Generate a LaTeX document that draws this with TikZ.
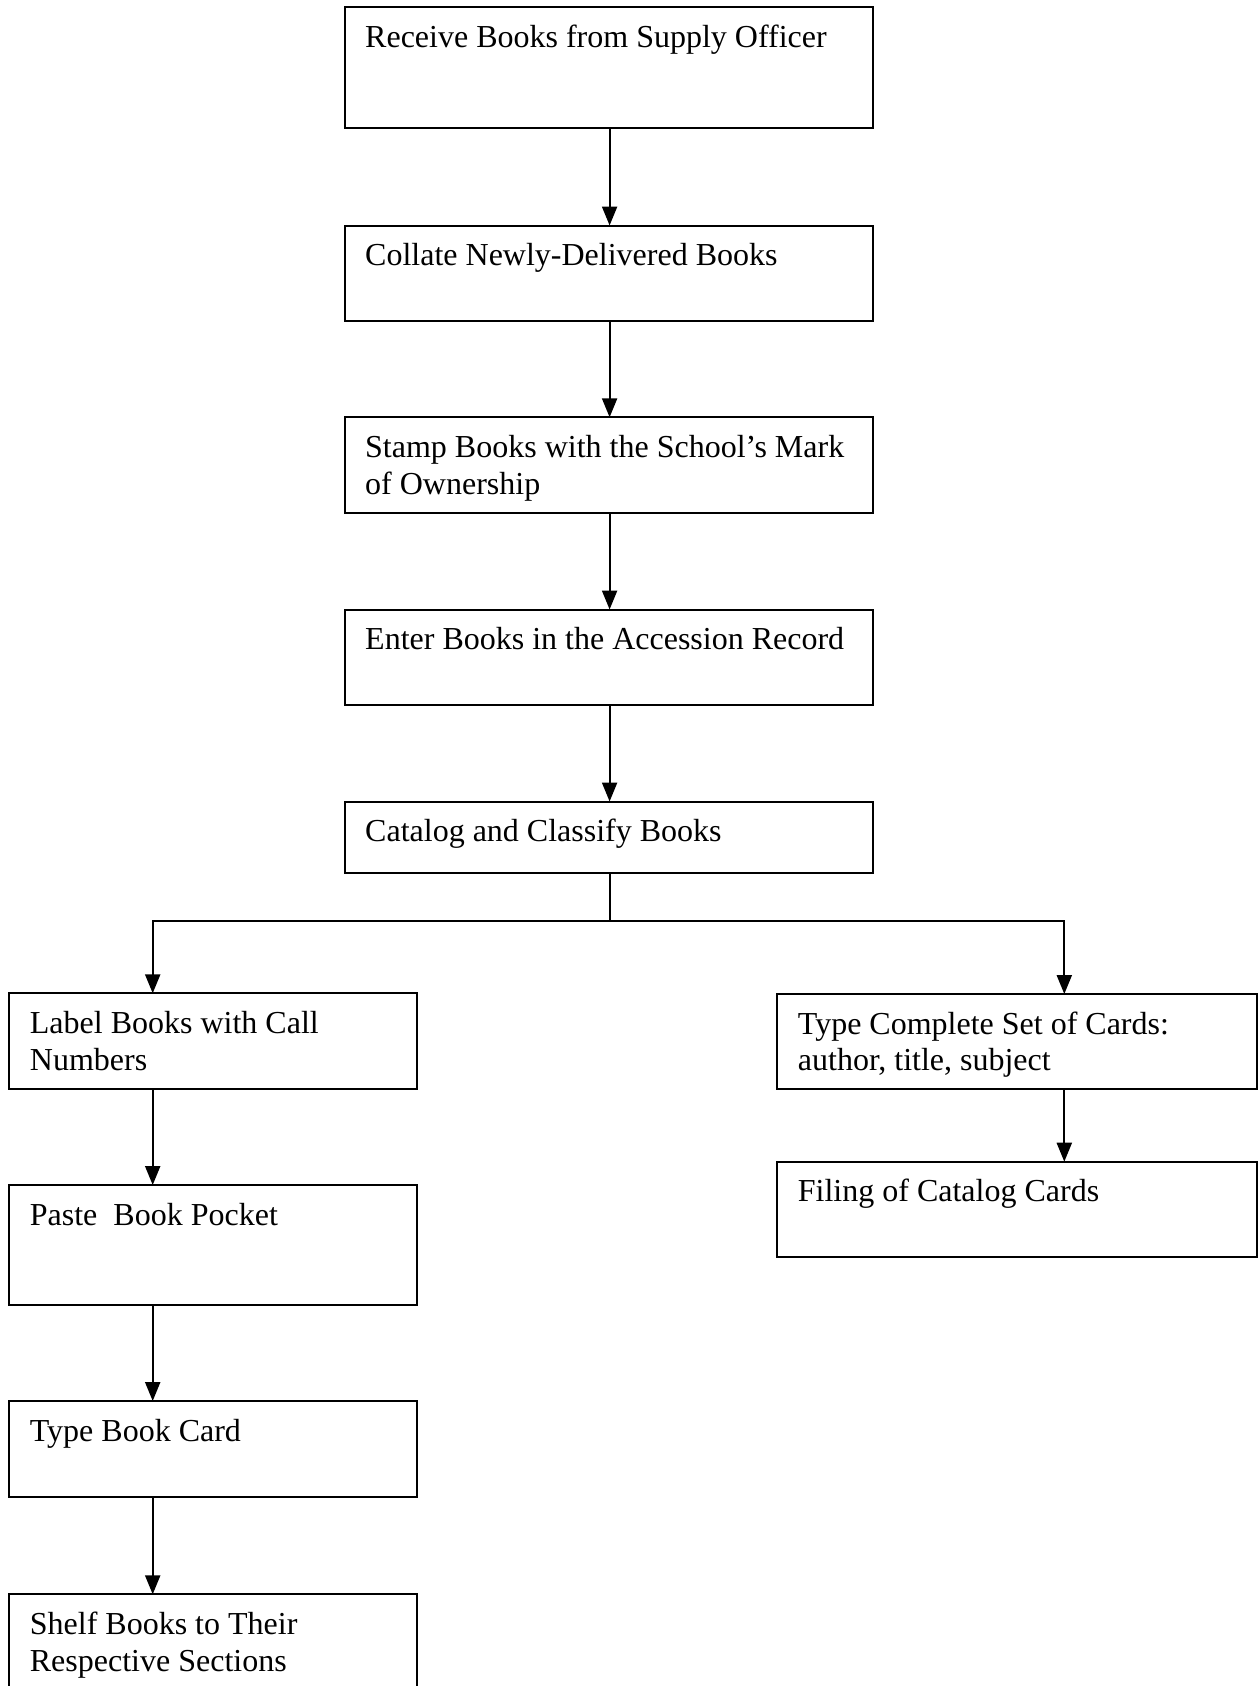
\documentclass[tikz,border=0pt]{standalone}
\usepackage{fontspec}
\setmainfont{Liberation Serif}
\usetikzlibrary{arrows.meta}

\tikzset{
  stepbox/.style={draw, line width=2pt, rectangle, anchor=north west,
    inner sep=0pt, outer sep=0pt},
  boxtext/.style={anchor=base west, inner sep=0pt,
    font=\fontsize{32}{36.7}\selectfont},
  flow/.style={line width=2.2pt},
  flowarrow/.style={flow, -{Triangle[width=15pt,length=19pt]}},
}

% \flowbox{name}{left}{top}{right}{bottom}{text indent}{text}
\newcommand\flowbox[7]{%
  \node[stepbox, minimum width={#4-#2}, minimum height={#5-#3}] (#1) at (#2,#3) {};
  \node[boxtext] (#1-t) at ([xshift=#6pt,yshift=-40pt]#1.north west)
    {\parbox[t]{600pt}{\raggedright #7}};
}

\begin{document}
\begin{tikzpicture}[x=1pt,y=-1pt]
  \useasboundingbox (0,0) rectangle (1259,1686);
  \clip (0,0) rectangle (1259,1686);

  % main column
  \flowbox{recv}{345}{7.3}{873}{127.8}{20}{Receive Books from Supply Officer}
  \flowbox{coll}{345}{225.5}{873}{320.5}{20}{Collate Newly-Delivered Books}
  \flowbox{stamp}{345}{417.3}{873}{513}{20}{Stamp Books with the School’s Mark\\of Ownership}
  \flowbox{enter}{345}{609.5}{873}{705.3}{20}{Enter Books in the Accession Record}
  \flowbox{cat}{345}{801.5}{873}{873}{20}{Catalog and Classify Books}

  % left branch
  \flowbox{label}{8.7}{993.3}{416.7}{1089.3}{21}{Label Books with Call\\Numbers}
  \flowbox{paste}{8.7}{1185}{416.7}{1305}{21}{Paste\ \ Book Pocket}
  \flowbox{card}{8.7}{1401}{416.7}{1496.7}{21}{Type Book Card}
  \flowbox{shelf}{8.7}{1594.3}{416.7}{1720}{21}{Shelf Books to Their\\Respective Sections}

  % right branch
  \flowbox{cards}{776.7}{994}{1256.7}{1089.3}{21}{Type Complete Set of Cards:\\author, title, subject}
  \flowbox{file}{776.7}{1161.7}{1256.7}{1257.3}{21}{Filing of Catalog Cards}

  % connector guides
  \coordinate (mx) at (609.6,0);
  \coordinate (lx) at (152.7,921);
  \coordinate (rx) at (1064.3,921);
  \coordinate (split) at (609.6,921);

  % main column arrows
  \draw[flowarrow] (recv.south -| mx) -- (coll.north -| mx);
  \draw[flowarrow] (coll.south -| mx) -- (stamp.north -| mx);
  \draw[flowarrow] (stamp.south -| mx) -- (enter.north -| mx);
  \draw[flowarrow] (enter.south -| mx) -- (cat.north -| mx);

  % split into two branches
  \draw[flow] (cat.south -| mx) -- (split);
  \draw[flowarrow] (split) -- (lx) -- (label.north -| lx);
  \draw[flowarrow] (split) -- (rx) -- (cards.north -| rx);

  % left branch arrows
  \draw[flowarrow] (label.south -| lx) -- (paste.north -| lx);
  \draw[flowarrow] (paste.south -| lx) -- (card.north -| lx);
  \draw[flowarrow] (card.south -| lx) -- (shelf.north -| lx);

  % right branch arrow
  \draw[flowarrow] (cards.south -| rx) -- (file.north -| rx);
\end{tikzpicture}
\end{document}
